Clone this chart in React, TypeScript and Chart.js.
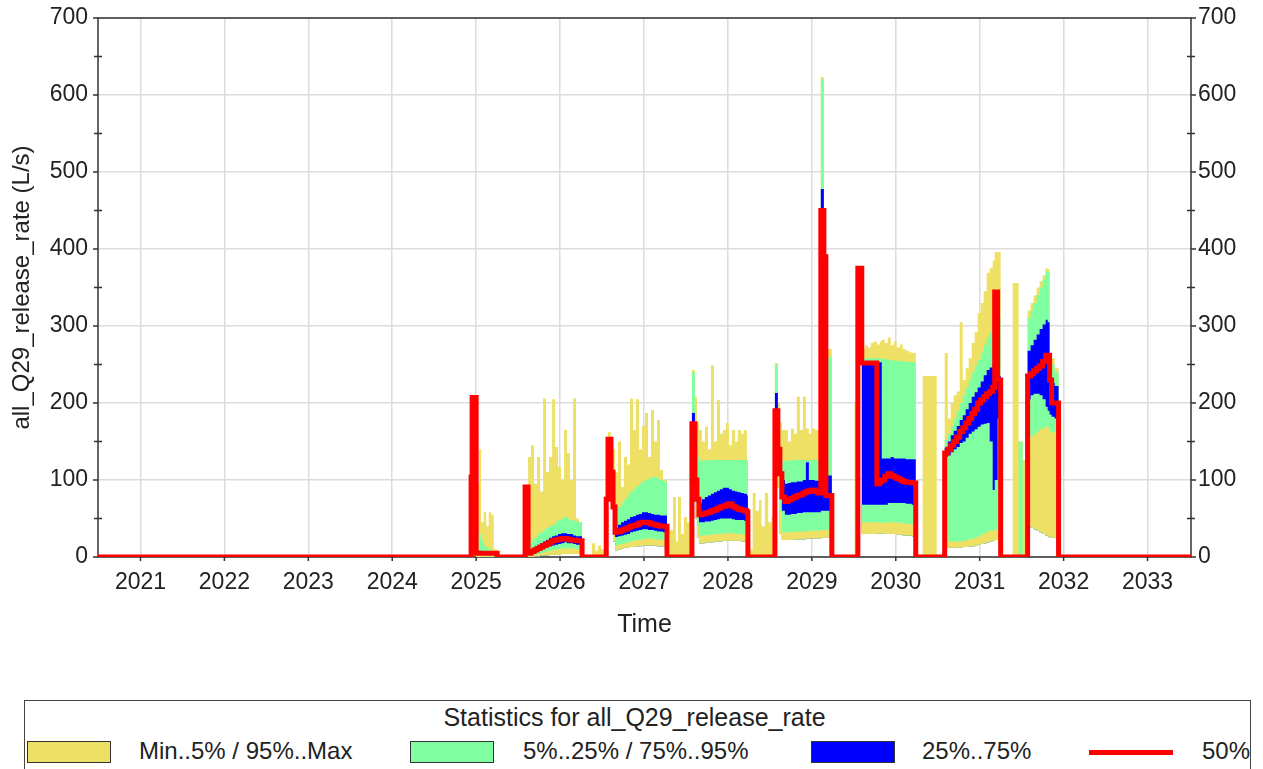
import React, { useEffect, useRef } from "react";
import { Chart, registerables } from "chart.js";

Chart.register(...registerables);

const FONT = '"Liberation Sans", Arial, Helvetica, sans-serif';
const TEXT = "#222222";

const YEARS = [2021, 2022, 2023, 2024, 2025, 2026, 2027, 2028, 2029, 2030, 2031, 2032, 2033];
const Y_TICKS = [0, 100, 200, 300, 400, 500, 600, 700];
const X_MIN = 2020.494;
const X_MAX = 2033.518;

const YELLOW = "#EEE064";
const GREEN = "#80FFA0";
const BLUE = "#0000FF";
const RED = "#FF0000";

// time (decimal years)
const T = [
  2020.49,
  2024.94, 2024.952, 2025.0, 2025.036, 2025.06, 2025.09, 2025.12, 2025.15, 2025.18, 2025.21, 2025.25,
  2025.583, 2025.619, 2025.655, 2025.69, 2025.726, 2025.762, 2025.798, 2025.833, 2025.869, 2025.905, 2025.94, 2025.976, 2026.012, 2026.048, 2026.083, 2026.119, 2026.155, 2026.19, 2026.226, 2026.262,
  2026.38, 2026.42, 2026.45, 2026.49, 2026.53,
  2026.55, 2026.571, 2026.607, 2026.631, 2026.655, 2026.69, 2026.726, 2026.762, 2026.798, 2026.833, 2026.869, 2026.905, 2026.94, 2026.976, 2027.012, 2027.048, 2027.083, 2027.119, 2027.155, 2027.19, 2027.226, 2027.274,
  2027.31, 2027.345, 2027.38, 2027.405, 2027.44, 2027.475, 2027.51, 2027.55,
  2027.571, 2027.607, 2027.631, 2027.655, 2027.69, 2027.726, 2027.762, 2027.798, 2027.833, 2027.869, 2027.905, 2027.94, 2027.976, 2028.012, 2028.048, 2028.083, 2028.119, 2028.155, 2028.19, 2028.226, 2028.238,
  2028.26, 2028.295, 2028.33, 2028.37, 2028.4, 2028.44, 2028.48, 2028.52, 2028.55,
  2028.56, 2028.595, 2028.619, 2028.643, 2028.679, 2028.714, 2028.75, 2028.786, 2028.821, 2028.857, 2028.893, 2028.929, 2028.964, 2029.0, 2029.036, 2029.071, 2029.107, 2029.143, 2029.167, 2029.238,
  2029.51,
  2029.548, 2029.595, 2029.631, 2029.667, 2029.702, 2029.738, 2029.774, 2029.81, 2029.833, 2029.869, 2029.905, 2029.94, 2029.976, 2030.012, 2030.048, 2030.083, 2030.119, 2030.155, 2030.19, 2030.238,
  2030.321, 2030.488,
  2030.583, 2030.62, 2030.655, 2030.69, 2030.726, 2030.762, 2030.798, 2030.833, 2030.869, 2030.905, 2030.94, 2030.976, 2031.012, 2031.048, 2031.083, 2031.119, 2031.155, 2031.179, 2031.214, 2031.25,
  2031.393, 2031.464, 2031.512,
  2031.571, 2031.607, 2031.643, 2031.679, 2031.714, 2031.75, 2031.786, 2031.81, 2031.833, 2031.857, 2031.893, 2031.94,
  2033.52,
];

const MIN = [
  0,
  104, 207, 0, 0, 0, 0, 0, 0, 0, 0, 0,
  91, 0, 0, 1, 1, 2, 2, 2, 3, 3, 3, 3, 4, 4, 4, 4, 4, 4, 4, 0,
  0, 0, 0, 0, 0,
  75, 153, 95, 20, 8, 10, 11, 12, 12, 13, 13, 14, 14, 15, 15, 15, 15, 15, 14, 14, 14, 0,
  0, 0, 0, 0, 0, 0, 0, 0,
  160, 50, 25, 18, 18, 19, 19, 19, 20, 20, 20, 21, 21, 21, 21, 21, 21, 20, 20, 20, 0,
  0, 0, 0, 0, 0, 0, 0, 0, 0,
  182, 90, 30, 22, 22, 22, 22, 23, 23, 23, 23, 24, 24, 24, 24, 24, 25, 25, 25, 0,
  0,
  375, 30, 30, 30, 30, 30, 31, 31, 31, 30, 30, 30, 30, 29, 29, 28, 28, 28, 27, 0,
  0, 0,
  12, 12, 12, 12, 12, 12, 13, 13, 14, 14, 15, 16, 17, 18, 19, 20, 21, 22, 22, 0,
  0, 0, 0,
  40, 38, 36, 34, 32, 30, 28, 27, 25, 25, 25, 0,
  0,
];

const P5 = [
  0,
  104, 207, 2, 2, 2, 2, 1, 1, 1, 1, 0,
  91, 1, 2, 3, 4, 5, 6, 7, 8, 9, 10, 10, 11, 11, 11, 11, 11, 10, 10, 0,
  0, 0, 0, 0, 0,
  75, 153, 100, 40, 15, 16, 17, 18, 19, 20, 21, 22, 22, 23, 24, 24, 24, 23, 23, 22, 22, 0,
  0, 0, 0, 0, 0, 0, 0, 0,
  165, 70, 40, 28, 28, 28, 29, 29, 30, 30, 30, 31, 31, 31, 31, 30, 30, 30, 30, 29, 0,
  0, 0, 0, 0, 0, 0, 0, 0, 0,
  186, 115, 60, 32, 32, 32, 32, 33, 33, 33, 33, 33, 34, 34, 34, 34, 35, 35, 35, 0,
  0,
  375, 45, 45, 45, 45, 45, 45, 45, 44, 44, 45, 45, 45, 44, 44, 44, 43, 43, 43, 0,
  0, 0,
  20, 20, 20, 20, 20, 20, 21, 22, 23, 24, 25, 27, 29, 31, 33, 34, 35, 35, 35, 0,
  0, 0, 0,
  155, 157, 160, 163, 166, 168, 170, 168, 163, 162, 160, 0,
  0,
];

const P25 = [
  0,
  104, 207, 4, 4, 4, 3, 3, 3, 3, 2, 0,
  91, 3, 4, 6, 8, 10, 12, 13, 14, 15, 16, 17, 18, 19, 18, 18, 17, 16, 16, 0,
  0, 0, 0, 0, 0,
  75, 153, 108, 55, 26, 27, 28, 29, 30, 32, 33, 34, 35, 36, 36, 35, 35, 34, 33, 33, 32, 0,
  0, 0, 0, 0, 0, 0, 0, 0,
  170, 90, 60, 45, 45, 46, 46, 47, 48, 49, 50, 50, 50, 50, 49, 48, 48, 48, 47, 47, 0,
  0, 0, 0, 0, 0, 0, 0, 0, 0,
  188, 130, 95, 60, 55, 55, 56, 56, 57, 57, 58, 58, 58, 58, 58, 58, 60, 60, 60, 0,
  0,
  375, 68, 68, 68, 68, 68, 68, 68, 68, 68, 70, 70, 70, 70, 70, 70, 69, 69, 68, 0,
  0, 0,
  130, 132, 136, 140, 143, 148, 150, 155, 160, 163, 166, 169, 172, 173, 174, 150, 87, 100, 180, 0,
  0, 0, 0,
  205, 210, 212, 212, 210, 205, 195, 190, 185, 182, 180, 0,
  0,
];

const P50 = [
  0,
  104, 207, 5, 5, 5, 5, 5, 5, 5, 5, 0,
  91, 5, 7, 9, 11, 13, 15, 17, 19, 21, 22, 23, 24, 24, 23, 22, 22, 21, 21, 0,
  0, 0, 0, 0, 0,
  75, 153, 110, 65, 32, 33, 35, 36, 38, 40, 41, 42, 44, 45, 45, 44, 43, 42, 41, 40, 40, 0,
  0, 0, 0, 0, 0, 0, 0, 0,
  173, 100, 75, 55, 56, 57, 58, 60, 61, 63, 65, 66, 68, 69, 66, 64, 62, 61, 60, 58, 0,
  0, 0, 0, 0, 0, 0, 0, 0, 0,
  190, 140, 108, 78, 72, 74, 76, 78, 80, 81, 83, 85, 86, 87, 85, 83, 450, 390, 80, 0,
  0,
  375, 252, 252, 252, 252, 252, 95, 98, 100, 105, 108, 106, 104, 102, 100, 98, 97, 97, 96, 0,
  0, 0,
  135, 140, 145, 150, 156, 163, 168, 174, 180, 186, 192, 200, 204, 208, 212, 215, 220, 344, 230, 0,
  0, 0, 0,
  235, 238, 242, 245, 248, 254, 262, 262, 230, 200, 200, 0,
  0,
];

const P75 = [
  0,
  104, 207, 7, 8, 7, 6, 6, 6, 6, 5, 0,
  91, 7, 10, 12, 15, 18, 20, 22, 25, 27, 28, 30, 31, 31, 30, 30, 28, 27, 27, 0,
  0, 0, 0, 0, 0,
  75, 153, 115, 80, 38, 42, 45, 47, 49, 52, 53, 55, 56, 58, 58, 57, 56, 55, 55, 54, 54, 0,
  0, 0, 0, 0, 0, 0, 0, 0,
  187, 110, 90, 70, 75, 78, 80, 82, 84, 86, 88, 90, 90, 88, 86, 85, 84, 83, 82, 80, 0,
  0, 0, 0, 0, 0, 0, 0, 0, 0,
  213, 150, 120, 100, 95, 96, 97, 97, 98, 98, 100, 123, 100, 100, 99, 99, 478, 106, 106, 0,
  0,
  375, 253, 253, 253, 253, 253, 253, 253, 128, 128, 128, 130, 128, 128, 128, 128, 127, 127, 127, 0,
  0, 0,
  142, 150, 158, 164, 170, 178, 184, 192, 200, 208, 214, 220, 228, 236, 243, 246, 250, 252, 235, 0,
  0, 0, 0,
  268, 275, 282, 289, 296, 302, 308, 305, 228, 226, 222, 0,
  0,
];

const P95 = [
  0,
  104, 207, 35, 30, 22, 15, 12, 10, 8, 6, 0,
  91, 18, 22, 25, 30, 32, 35, 38, 40, 42, 45, 48, 50, 52, 50, 48, 47, 46, 45, 0,
  0, 0, 0, 0, 0,
  75, 153, 118, 90, 60, 65, 70, 75, 80, 85, 88, 92, 95, 98, 100, 102, 104, 104, 102, 100, 98, 0,
  0, 0, 0, 0, 0, 0, 0, 0,
  240, 150, 130, 125, 125, 126, 126, 126, 126, 126, 126, 126, 126, 126, 126, 126, 126, 126, 126, 126, 0,
  0, 0, 0, 0, 0, 0, 0, 0, 0,
  250, 165, 130, 125, 125, 125, 126, 126, 126, 126, 126, 126, 126, 126, 126, 126, 620, 260, 260, 0,
  0,
  375, 258, 258, 258, 258, 258, 258, 258, 257, 257, 256, 256, 255, 255, 254, 254, 254, 253, 253, 0,
  0, 0,
  152, 160, 170, 180, 190, 200, 210, 220, 230, 240, 248, 256, 265, 275, 285, 292, 300, 312, 312, 0,
  0, 150, 0,
  310, 320, 330, 340, 350, 360, 372, 370, 255, 250, 240, 0,
  0,
];

const MAX = [
  0,
  104, 207, 95, 140, 45, 58, 40, 58, 55, 10, 0,
  91, 130, 145, 95, 130, 85, 206, 110, 130, 205, 143, 117, 100, 165, 135, 100, 206, 50, 45, 0,
  18, 8, 15, 10, 0,
  75, 162, 120, 140, 110, 150, 91, 130, 120, 206, 165, 205, 140, 170, 187, 130, 191, 150, 178, 113, 100, 0,
  35, 78, 20, 78, 30, 52, 45, 0,
  243, 208, 175, 165, 150, 169, 140, 249, 150, 204, 160, 165, 174, 145, 165, 150, 165, 160, 165, 126, 0,
  10, 83, 60, 74, 40, 83, 45, 52, 0,
  252, 200, 175, 165, 165, 150, 167, 160, 208, 165, 208, 167, 160, 167, 165, 165, 623, 270, 270, 0,
  200,
  375, 270, 275, 272, 278, 280, 276, 280, 282, 278, 285, 275, 280, 272, 276, 270, 268, 266, 265, 0,
  235, 0,
  265, 180, 200, 210, 215, 305, 230, 245, 258, 278, 292, 317, 330, 345, 369, 375, 385, 396, 396, 0,
  356, 150, 126,
  320, 330, 340, 350, 358, 366, 375, 374, 262, 258, 245, 0,
  0,
];

const LEGEND_TITLE = "Statistics for all_Q29_release_rate";
const LEGEND_LABELS = ["Min..5% / 95%..Max", "5%..25% / 75%..95%", "25%..75%", "50%"];

const framePlugin = {
  id: "frame",
  beforeDatasetsDraw(chart: any) {
    const { ctx, chartArea } = chart;
    const { left, right, top, bottom } = chartArea;
    const y = chart.scales.y;
    const x = chart.scales.x;
    ctx.save();
    ctx.strokeStyle = "#333333";
    ctx.lineWidth = 1.5;
    ctx.strokeRect(left, top, right - left, bottom - top);
    ctx.beginPath();
    Y_TICKS.forEach((v, i) => {
      const py = y.getPixelForValue(v);
      ctx.moveTo(left - 5, py);
      ctx.lineTo(left, py);
      ctx.moveTo(right, py);
      ctx.lineTo(right + 5, py);
      if (i < Y_TICKS.length - 1) {
        const pm = y.getPixelForValue((v + Y_TICKS[i + 1]) / 2);
        ctx.moveTo(left - 4, pm);
        ctx.lineTo(left + 4, pm);
        ctx.moveTo(right - 4, pm);
        ctx.lineTo(right + 4, pm);
      }
    });
    YEARS.forEach((yr) => {
      const px = x.getPixelForValue(yr);
      ctx.moveTo(px, bottom);
      ctx.lineTo(px, bottom + 4);
    });
    ctx.stroke();
    ctx.restore();
  },
};

export default function App() {
  const ref = useRef<HTMLCanvasElement>(null);

  useEffect(() => {
    const canvas = ref.current;
    if (!canvas) return;
    const pts = (arr: number[]) => T.map((t, i) => ({ x: t, y: arr[i] }));
    const band = (label: string, arr: number[], color: string) => ({
      label,
      data: pts(arr),
      borderColor: "rgba(0,0,0,0)",
      borderWidth: 0,
      backgroundColor: color,
      fill: 1,
      stepped: true,
      pointRadius: 0,
      pointHoverRadius: 0,
    });
    const chart = new Chart(canvas, {
      type: "line",
      data: {
        datasets: [
          {
            label: "50%",
            data: pts(P50),
            borderColor: RED,
            borderWidth: 5,
            fill: false,
            stepped: true,
            pointRadius: 0,
            pointHoverRadius: 0,
            borderJoinStyle: "miter",
            borderCapStyle: "butt",
          },
          {
            label: "Min",
            data: pts(MIN),
            borderColor: "rgba(0,0,0,0)",
            borderWidth: 0,
            fill: false,
            stepped: true,
            pointRadius: 0,
          },
          band("5%", P5, YELLOW),
          band("25%", P25, GREEN),
          band("75%", P75, BLUE),
          band("95%", P95, GREEN),
          band("Max", MAX, YELLOW),
        ] as any,
      },
      options: {
        responsive: false,
        animation: false,
        devicePixelRatio: 1,
        events: [],
        layout: { padding: { left: 0, right: 0, top: 18, bottom: 0 } },
        plugins: { legend: { display: false }, tooltip: { enabled: false } },
        scales: {
          x: {
            type: "linear",
            min: X_MIN,
            max: X_MAX,
            afterBuildTicks: (s: any) => {
              s.ticks = YEARS.map((v) => ({ value: v }));
            },
            afterFit: (s: any) => {
              s.height = 103;
              s.paddingLeft = 0;
              s.paddingRight = 0;
            },
            grid: { color: "#dcdcdc", lineWidth: 1.5, drawTicks: false },
            border: { display: false },
            ticks: {
              font: { family: FONT, size: 23 },
              color: TEXT,
              padding: 12,
              maxRotation: 0,
              autoSkip: false,
              callback: (v: any) => String(v),
            },
            title: {
              display: true,
              text: "Time",
              font: { family: FONT, size: 25 },
              color: TEXT,
              padding: { top: 0, bottom: 20 },
            },
          },
          y: {
            type: "linear",
            position: "left",
            min: 0,
            max: 700,
            afterBuildTicks: (s: any) => {
              s.ticks = Y_TICKS.map((v) => ({ value: v }));
            },
            afterFit: (s: any) => {
              s.width = 98;
              s.paddingTop = 0;
              s.paddingBottom = 0;
            },
            grid: { color: "#dcdcdc", lineWidth: 1.5, drawTicks: false },
            border: { display: false },
            ticks: { font: { family: FONT, size: 23 }, color: TEXT, padding: 10 },
            title: {
              display: true,
              text: "all_Q29_release_rate (L/s)",
              font: { family: FONT, size: 24 },
              color: TEXT,
              padding: { top: 8, bottom: 0 },
            },
          },
          y2: {
            type: "linear",
            position: "right",
            min: 0,
            max: 700,
            afterBuildTicks: (s: any) => {
              s.ticks = Y_TICKS.map((v) => ({ value: v }));
            },
            afterFit: (s: any) => {
              s.width = 72;
              s.paddingTop = 0;
              s.paddingBottom = 0;
            },
            grid: { display: false, drawTicks: false },
            border: { display: false },
            ticks: { font: { family: FONT, size: 23 }, color: TEXT, padding: 7 },
          },
        },
      } as any,
      plugins: [framePlugin],
    });
    return () => chart.destroy();
  }, []);

  const textStyle: React.CSSProperties = {
    position: "absolute",
    fontFamily: FONT,
    fontSize: 24,
    lineHeight: "28px",
    color: TEXT,
    whiteSpace: "nowrap",
  };
  const swatch = (left: number, color: string): React.CSSProperties => ({
    position: "absolute",
    left,
    top: 741,
    width: 84,
    height: 22,
    background: color,
    border: "1.5px solid #333",
    boxSizing: "border-box",
  });

  return (
    <div
      style={{
        position: "fixed",
        left: 0,
        top: 0,
        width: 1263,
        height: 769,
        overflow: "hidden",
        background: "#ffffff",
      }}
    >
      <canvas ref={ref} width={1263} height={660} style={{ position: "absolute", left: 0, top: 0, width: 1263, height: 660 }} />
      <div
        style={{
          position: "absolute",
          left: 24,
          top: 700,
          width: 1227,
          height: 100,
          border: "1.5px solid #444",
          boxSizing: "border-box",
        }}
      />
      <div style={{ ...textStyle, fontSize: 25, left: 0, width: 1269, top: 703, textAlign: "center" }}>{LEGEND_TITLE}</div>
      <div style={swatch(27, YELLOW)} />
      <div style={{ ...textStyle, left: 139, top: 737 }}>{LEGEND_LABELS[0]}</div>
      <div style={swatch(410, GREEN)} />
      <div style={{ ...textStyle, left: 523, top: 737 }}>{LEGEND_LABELS[1]}</div>
      <div style={swatch(811, BLUE)} />
      <div style={{ ...textStyle, left: 922, top: 737 }}>{LEGEND_LABELS[2]}</div>
      <div style={{ position: "absolute", left: 1089, top: 749.5, width: 84, height: 5, background: RED }} />
      <div style={{ ...textStyle, left: 1202, top: 737 }}>{LEGEND_LABELS[3]}</div>
    </div>
  );
}
